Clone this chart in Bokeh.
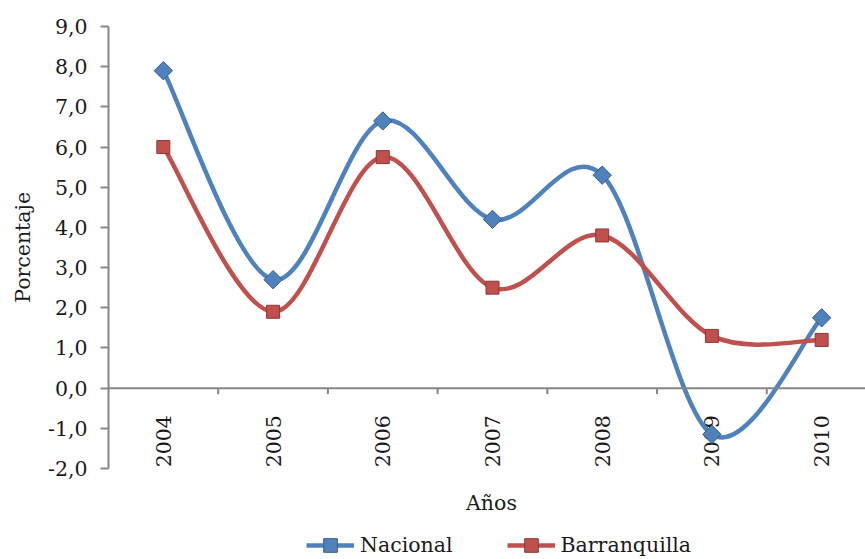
import math
from bokeh.plotting import figure
from bokeh.models import (Range1d, LinearAxis, FixedTicker, Legend, LegendItem,
                          Label, ColumnDataSource, Span)
from bokeh.core.properties import value
from bokeh.embed import file_html
from bokeh.resources import INLINE

# ---- data ----
years = ["2004", "2005", "2006", "2007", "2008", "2009", "2010"]
nacional = [7.9, 2.7, 6.65, 4.2, 5.3, -1.15, 1.75]
barranquilla = [6.0, 1.9, 5.75, 2.5, 3.8, 1.3, 1.2]
y_ticks = [-2, -1, 0, 1, 2, 3, 4, 5, 6, 7, 8, 9]
y_tick_labels = ["-2,0", "-1,0", "0,0", "1,0", "2,0", "3,0", "4,0",
                 "5,0", "6,0", "7,0", "8,0", "9,0"]

xs = list(range(len(years)))

BLUE = "#4F81BD"
BLUE_DARK = "#385D8A"
RED = "#C0504D"
RED_DARK = "#8C3836"
AXIS = "#868686"
SERIF = "DejaVu Serif"
TXT = "#1a1a1a"
FS = "20.5px"

# layout (pixels)
W, H = 865, 559
TOP, LEFT = 26, 108
AXIS_BOTTOM = 468            # pixel row of the lowest y tick
y_lo, y_hi = min(y_ticks), max(y_ticks)
px_per_unit = (AXIS_BOTTOM - TOP) / (y_hi - y_lo)
y_start = y_lo - (H - AXIS_BOTTOM) / px_per_unit


def smooth_segments(x, y):
    """Catmull-Rom style Bezier control points (Excel 'smoothed line')."""
    n = len(x)
    d = dict(x0=[], y0=[], x1=[], y1=[], cx0=[], cy0=[], cx1=[], cy1=[])
    for i in range(n - 1):
        a = max(i - 1, 0)
        b = min(i + 2, n - 1)
        d["x0"].append(x[i]); d["y0"].append(y[i])
        d["x1"].append(x[i + 1]); d["y1"].append(y[i + 1])
        d["cx0"].append(x[i] + (x[i + 1] - x[a]) / 6.0)
        d["cy0"].append(y[i] + (y[i + 1] - y[a]) / 6.0)
        d["cx1"].append(x[i + 1] - (x[b] - x[i]) / 6.0)
        d["cy1"].append(y[i + 1] - (y[b] - y[i]) / 6.0)
    return ColumnDataSource(d)


p = figure(width=W, height=H, output_backend="svg", toolbar_location=None,
           x_range=Range1d(-0.5, 6.40), y_range=Range1d(y_start, y_hi),
           min_border_left=LEFT, min_border_right=0, min_border_top=TOP,
           min_border_bottom=0)
p.outline_line_color = None
p.xaxis.visible = False
p.yaxis.visible = False
p.xgrid.visible = False
p.ygrid.visible = False
p.background_fill_color = "white"
p.border_fill_color = "white"

# y axis (limited to -2..9); label padded so it centres on the -2..9 span
yaxis = LinearAxis(ticker=FixedTicker(ticks=y_ticks), bounds=(y_lo, y_hi),
                   major_label_overrides={t: l for t, l in zip(y_ticks, y_tick_labels)},
                   axis_label="\u00a0" * 14 + "Porcentaje")
yaxis.axis_line_color = AXIS
yaxis.axis_line_width = 2
yaxis.major_tick_line_color = AXIS
yaxis.major_tick_line_width = 2
yaxis.major_tick_out = 8
yaxis.major_tick_in = 0
yaxis.minor_tick_line_color = None
yaxis.major_label_standoff = 13
yaxis.major_label_text_font = SERIF
yaxis.major_label_text_font_size = FS
yaxis.major_label_text_color = TXT
yaxis.axis_label_text_font = SERIF
yaxis.axis_label_text_font_size = FS
yaxis.axis_label_text_font_style = "normal"
yaxis.axis_label_text_color = TXT
yaxis.axis_label_standoff = 10
p.add_layout(yaxis, "left")

# category axis crossing at 0: line, boundary ticks, rotated year labels
p.add_layout(Span(location=0, dimension="width", line_color=AXIS, line_width=2))
bounds = [i + 0.5 for i in xs]
p.segment(x0=bounds, y0=[0] * len(bounds), x1=bounds, y1=[-0.15] * len(bounds),
          line_color=AXIS, line_width=2)
p.text(x=xs, y=[0] * len(xs), text=years, angle=math.pi / 2, y_offset=27,
       text_align="right", text_baseline="middle",
       text_font=value(SERIF), text_font_size=FS, text_color=TXT)

# series
src_n = smooth_segments(xs, nacional)
src_b = smooth_segments(xs, barranquilla)
bz_n = p.bezier(x0="x0", y0="y0", x1="x1", y1="y1", cx0="cx0", cy0="cy0",
                cx1="cx1", cy1="cy1", source=src_n, line_color=BLUE, line_width=4.5)
bz_b = p.bezier(x0="x0", y0="y0", x1="x1", y1="y1", cx0="cx0", cy0="cy0",
                cx1="cx1", cy1="cy1", source=src_b, line_color=RED, line_width=4.5)
sc_b = p.scatter(xs, barranquilla, marker="square", size=13, fill_color=RED,
                 line_color=RED_DARK, line_width=1)
sc_n = p.scatter(xs, nacional, marker="square", angle=math.pi / 4, size=13,
                 fill_color=BLUE, line_color=BLUE_DARK, line_width=1)

# x axis title
p.add_layout(Label(x=383, y=H - 502, x_units="screen", y_units="screen", text="Años",
                   text_align="center", text_baseline="middle",
                   text_font=SERIF, text_font_size=FS, text_color=TXT))

legend = Legend(items=[LegendItem(label="Nacional", renderers=[bz_n, sc_n]),
                       LegendItem(label="Barranquilla", renderers=[bz_b, sc_b])],
                orientation="horizontal", location=(198, -3),
                glyph_width=48, glyph_height=34, spacing=54, label_standoff=6,
                label_text_font=SERIF, label_text_font_size=FS,
                label_text_color=TXT,
                border_line_color=None, background_fill_alpha=0,
                padding=0, margin=0)
p.add_layout(legend, "center")

open("out.html", "w").write(file_html(p, INLINE))
